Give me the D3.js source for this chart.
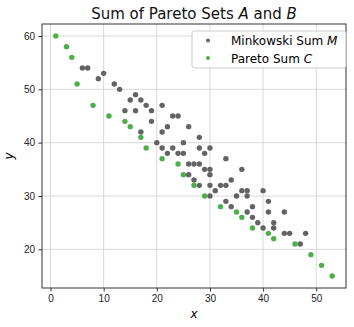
<!DOCTYPE html>
<html>
<head>
  <style>
    body { margin: 0; background: white; }
    svg { font-family: "DejaVu Sans", sans-serif; }
    .grid line { stroke: #d9d9d9; stroke-width: 1; }
    .axis path, .axis line { stroke: #333; }
    .axis text { font-size: 10px; fill: #222; }
  </style>
  <script src="https://d3js.org/d3.v7.min.js"></script>
</head>
<body>
  <div id="chart"></div>
  <script>
    // Minkowski sum points (x, y)
    const minkX = [6, 7, 9, 10, 12, 13, 14, 15, 16, 16, 17, 17, 18, 19, 19, 20, 21, 21, 21, 22, 22, 23, 23, 24, 24, 25, 25, 26, 26, 26, 27, 27, 28, 28, 28, 28, 29, 29, 30, 30, 30, 30, 30, 31, 32, 33, 33, 33, 34, 34, 35, 36, 36, 37, 37, 37, 38, 38, 39, 40, 40, 41, 41, 42, 42, 44, 44, 45, 47, 48];
    const minkY = [54, 54, 52, 53, 51, 50, 46, 48, 49, 46, 48, 42, 47, 46, 44, 40, 47, 42, 39, 43, 38, 45, 39, 45, 38, 40, 38, 43, 36, 34, 36, 33, 41, 39, 36, 32, 38, 35, 39, 35, 34, 32, 30, 31, 32, 37, 32, 29, 33, 28, 30, 35, 31, 31, 30, 27, 28, 26, 25, 31, 24, 29, 27, 25, 24, 27, 23, 23, 21, 23];

    // Pareto sum points
    const paretoX = [1, 3, 4, 5, 8, 11, 14, 15, 17, 18, 21, 24, 25, 27, 29, 32, 35, 36, 38, 41, 42, 46, 49, 51, 53];
    const paretoY = [60, 58, 56, 51, 47, 45, 44, 43, 41, 39, 37, 36, 34, 32, 30, 28, 27, 26, 24, 23, 22, 21, 19, 17, 15];

    const xTicks = [0, 10, 20, 30, 40, 50];
    const yTicks = [20, 30, 40, 50, 60];

    const W = 354, H = 327;
    const margin = { top: 24, right: 8, bottom: 39, left: 42 };
    const iw = W - margin.left - margin.right;
    const ih = H - margin.top - margin.bottom;

    const svg = d3.select("#chart").append("svg")
      .attr("width", W).attr("height", H);

    const g = svg.append("g")
      .attr("transform", `translate(${margin.left},${margin.top})`);

    const x = d3.scaleLinear().domain([-1.6, 55.6]).range([0, iw]);
    const y = d3.scaleLinear().domain([12.75, 62.25]).range([ih, 0]);

    // grid
    const grid = g.append("g").attr("class", "grid");
    grid.selectAll(".gx").data(xTicks).enter().append("line")
      .attr("x1", d => x(d)).attr("x2", d => x(d))
      .attr("y1", 0).attr("y2", ih);
    grid.selectAll(".gy").data(yTicks).enter().append("line")
      .attr("y1", d => y(d)).attr("y2", d => y(d))
      .attr("x1", 0).attr("x2", iw);

    const mink = minkX.map((d, i) => ({ x: d, y: minkY[i] }));
    const pareto = paretoX.map((d, i) => ({ x: d, y: paretoY[i] }));

    g.append("g").selectAll("circle")
      .data(mink).enter().append("circle")
      .attr("cx", d => x(d.x)).attr("cy", d => y(d.y))
      .attr("r", 2.7).attr("fill", "#636363");

    g.append("g").selectAll("circle")
      .data(pareto).enter().append("circle")
      .attr("cx", d => x(d.x)).attr("cy", d => y(d.y))
      .attr("r", 2.7).attr("fill", "#4daf4a");

    // axes
    g.append("g").attr("class", "axis")
      .attr("transform", `translate(0,${ih})`)
      .call(d3.axisBottom(x).tickValues(xTicks).tickSize(3.5).tickPadding(3.5))
      .call(s => s.select(".domain").remove());
    g.append("g").attr("class", "axis")
      .call(d3.axisLeft(y).tickValues(yTicks).tickSize(3.5).tickPadding(3.5))
      .call(s => s.select(".domain").remove());

    g.append("rect")
      .attr("width", iw).attr("height", ih)
      .attr("fill", "none").attr("stroke", "#333").attr("stroke-width", 1);

    // title
    const title = svg.append("text")
      .attr("x", margin.left + iw / 2).attr("y", 19)
      .attr("text-anchor", "middle").attr("font-size", 15).attr("fill", "#111");
    title.append("tspan").text("Sum of Pareto Sets ");
    title.append("tspan").attr("font-style", "italic").text("A");
    title.append("tspan").text(" and ");
    title.append("tspan").attr("font-style", "italic").text("B");

    // axis labels
    svg.append("text")
      .attr("x", margin.left + iw / 2).attr("y", 318)
      .attr("text-anchor", "middle").attr("font-size", 12)
      .attr("font-style", "italic").text("x");
    svg.append("text")
      .attr("transform", `translate(13,${margin.top + ih / 2}) rotate(-90)`)
      .attr("text-anchor", "middle").attr("font-size", 12)
      .attr("font-style", "italic").text("y");

    // legend
    const legend = svg.append("g").attr("transform", "translate(192,31)");
    legend.append("rect")
      .attr("width", 154).attr("height", 37).attr("rx", 2.5)
      .attr("fill", "white").attr("fill-opacity", 0.8)
      .attr("stroke", "#ccc");
    const items = [
      { name: "Minkowski Sum ", sym: "M", color: "#636363" },
      { name: "Pareto Sum ", sym: "C", color: "#4daf4a" }
    ];
    const li = legend.selectAll(".li").data(items).enter().append("g")
      .attr("transform", (d, i) => `translate(0,${9.5 + i * 17.5})`);
    li.append("circle").attr("cx", 16).attr("cy", 0).attr("r", 2)
      .attr("fill", d => d.color);
    const lt = li.append("text").attr("x", 39).attr("y", 4.5).attr("font-size", 12);
    lt.append("tspan").text(d => d.name);
    lt.append("tspan").attr("font-style", "italic").text(d => d.sym);
  </script>
</body>
</html>
